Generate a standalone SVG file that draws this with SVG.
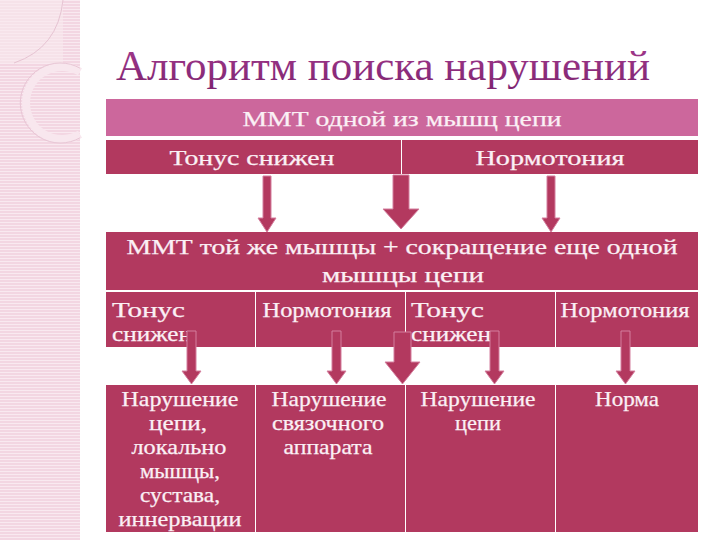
<svg xmlns="http://www.w3.org/2000/svg" width="720" height="540" viewBox="0 0 720 540" font-family="Liberation Serif">
<style>
text{font-family:'Liberation Serif',serif !important}
.t{fill:#FBF0F5;stroke:#FBF0F5;stroke-width:0.25;font-size:21px;text-anchor:middle}
.l{text-anchor:start}
.dark{fill:#B2395F}
.light{fill:#CC679C}
.arr{fill:#B3395F;stroke:#D47F9E;stroke-width:1}
</style>
<rect width="720" height="540" fill="#FFFFFF"/>
<g id="decor">
<rect x="0" y="0" width="80" height="540" fill="#F3D6E2"/>
<line x1="40" y1="0" x2="40" y2="540" stroke="#F9E9F0" stroke-width="80" stroke-dasharray="1 2"/>
<rect x="0" y="0" width="63" height="63" fill="#F8E9EF" opacity="0.6"/>
<path d="M63 0 Q58 48 14 63" fill="none" stroke="#E6C3D2" stroke-width="1"/>
<path d="M80 71.8 A36 36 0 1 0 80 134.2" fill="none" stroke="#F8E7EE" stroke-width="8"/>
<path d="M80 68.2 A40 40 0 1 0 80 137.8" fill="none" stroke="#E8C6D5" stroke-width="1"/>
</g>
<g id="title">
<linearGradient id="tg" x1="0" y1="0" x2="0" y2="1">
<stop offset="0" stop-color="#A43A8E"/>
<stop offset="1" stop-color="#7E2470"/>
</linearGradient>
<text x="116" y="80" style="font-family:'Liberation Serif',serif !important" font-size="42" fill="url(#tg)" textLength="534" lengthAdjust="spacingAndGlyphs">Алгоритм поиска нарушений</text>
</g>
<g id="n-mmt1">
<rect class="light" x="106" y="99" width="592" height="37"/>
<text class="t" x="402" y="126" textLength="319" lengthAdjust="spacingAndGlyphs">ММТ одной из мышц цепи</text>
</g>
<g id="n-tonus1">
<rect class="dark" x="106" y="140" width="295" height="34"/>
<text class="t" x="252" y="165" textLength="165" lengthAdjust="spacingAndGlyphs">Тонус снижен</text>
</g>
<g id="n-norm1">
<rect class="dark" x="402" y="140" width="296" height="34"/>
<text class="t" x="550" y="165" textLength="149" lengthAdjust="spacingAndGlyphs">Нормотония</text>
</g>
<g id="n-mmt2">
<rect class="dark" x="106" y="232" width="592" height="58"/>
<text class="t" x="402" y="254" textLength="551" lengthAdjust="spacingAndGlyphs">ММТ той же мышцы + сокращение еще одной</text>
<text class="t" x="403" y="282" textLength="162" lengthAdjust="spacingAndGlyphs">мышцы цепи</text>
</g>
<g id="n-tonus2a">
<rect class="dark" x="106" y="292" width="149" height="55"/>
<text class="t l" x="112" y="317" textLength="73" lengthAdjust="spacingAndGlyphs">Тонус</text>
<text class="t l" x="112" y="341" textLength="80" lengthAdjust="spacingAndGlyphs">снижен</text>
</g>
<g id="n-norm2a">
<rect class="dark" x="256" y="292" width="149" height="55"/>
<text class="t" x="327" y="317" textLength="129" lengthAdjust="spacingAndGlyphs">Нормотония</text>
</g>
<g id="n-tonus2b">
<rect class="dark" x="406" y="292" width="149" height="55"/>
<text class="t l" x="411" y="317" textLength="73" lengthAdjust="spacingAndGlyphs">Тонус</text>
<text class="t l" x="411" y="341" textLength="80" lengthAdjust="spacingAndGlyphs">снижен</text>
</g>
<g id="n-norm2b">
<rect class="dark" x="556" y="292" width="142" height="55"/>
<text class="t" x="625" y="317" textLength="129" lengthAdjust="spacingAndGlyphs">Нормотония</text>
</g>
<g id="n-res1">
<rect class="dark" x="106" y="385" width="149" height="147"/>
<text class="t" x="180" y="406" textLength="117" lengthAdjust="spacingAndGlyphs">Нарушение</text>
<text class="t" x="178" y="430" textLength="58" lengthAdjust="spacingAndGlyphs">цепи,</text>
<text class="t" x="179" y="454" textLength="95" lengthAdjust="spacingAndGlyphs">локально</text>
<text class="t" x="180" y="478" textLength="80" lengthAdjust="spacingAndGlyphs">мышцы,</text>
<text class="t" x="180" y="502" textLength="80" lengthAdjust="spacingAndGlyphs">сустава,</text>
<text class="t" x="180" y="526" textLength="123" lengthAdjust="spacingAndGlyphs">иннервации</text>
</g>
<g id="n-res2">
<rect class="dark" x="256" y="385" width="149" height="147"/>
<text class="t" x="329" y="406" textLength="115" lengthAdjust="spacingAndGlyphs">Нарушение</text>
<text class="t" x="328" y="430" textLength="112" lengthAdjust="spacingAndGlyphs">связочного</text>
<text class="t" x="328" y="454" textLength="89" lengthAdjust="spacingAndGlyphs">аппарата</text>
</g>
<g id="n-res3">
<rect class="dark" x="406" y="385" width="149" height="147"/>
<text class="t" x="478" y="406" textLength="115" lengthAdjust="spacingAndGlyphs">Нарушение</text>
<text class="t" x="478" y="430" textLength="46" lengthAdjust="spacingAndGlyphs">цепи</text>
</g>
<g id="n-res4">
<rect class="dark" x="556" y="385" width="142" height="147"/>
<text class="t" x="627" y="406" textLength="64" lengthAdjust="spacingAndGlyphs">Норма</text>
</g>
<g id="connectors">
<path class="arr" d="M263 176 H271 V218 H276 L267 232 L258 218 H263 Z"/>
<path class="arr" d="M393 175 H409 V209 H419 L401 229 L383 209 H393 Z"/>
<path class="arr" d="M547 176 H555 V218 H560 L551 232 L542 218 H547 Z"/>
<path class="arr" d="M187 331 H196 V371 H201 L191.5 384 L182 371 H187 Z"/>
<path class="arr" d="M332 331 H341 V371 H346 L336.5 384 L327 371 H332 Z"/>
<path class="arr" d="M394 332 H411 V362 H420 L402.5 384 L385 362 H394 Z"/>
<path class="arr" d="M490 331 H499 V371 H504 L494.5 384 L485 371 H490 Z"/>
<path class="arr" d="M621 331 H630 V371 H635 L625.5 384 L616 371 H621 Z"/>
</g>
</svg>
